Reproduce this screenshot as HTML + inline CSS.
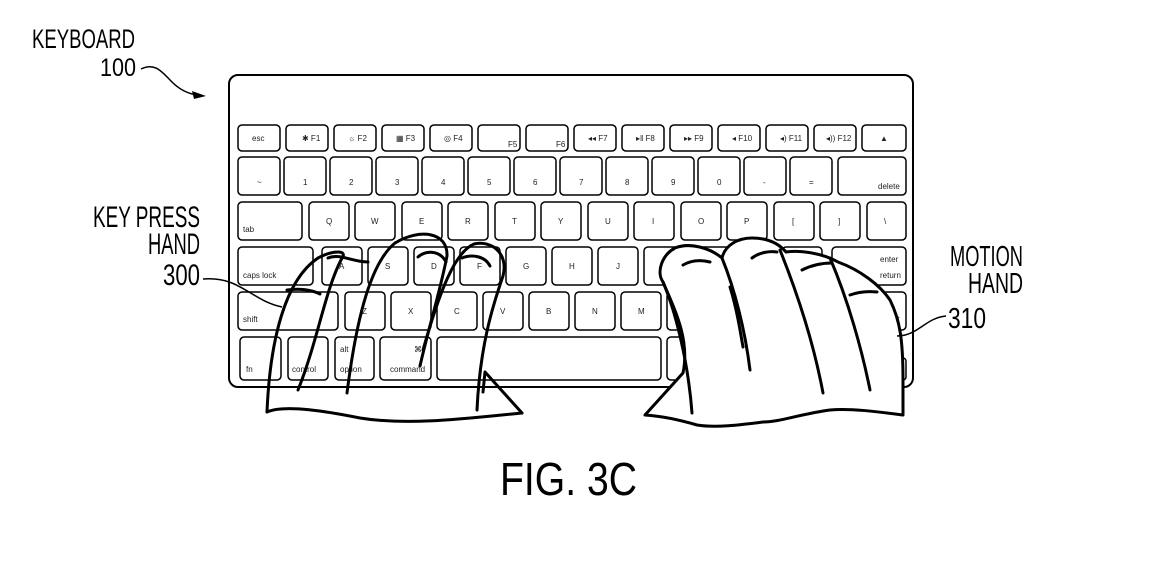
<!DOCTYPE html>
<html><head><meta charset="utf-8"><style>
html,body{margin:0;padding:0;background:#fff}
svg{display:block}
text{font-family:"Liberation Sans",sans-serif;fill:#000}
.k{fill:#fff;stroke:#000;stroke-width:1.5}
.t{font-size:8px;fill:#222}
.h{fill:none;stroke:#000;stroke-width:3;stroke-linecap:round;stroke-linejoin:round}
</style></head><body>
<svg width="1158" height="585" viewBox="0 0 1158 585" xmlns="http://www.w3.org/2000/svg">
<defs>
<pattern id="dots" width="4" height="4" patternUnits="userSpaceOnUse">
<rect width="4" height="4" fill="#fff"/><circle cx="1" cy="1" r="0.8" fill="#555"/><circle cx="3" cy="3" r="0.7" fill="#777"/>
</pattern>
</defs>
<!-- labels -->
<text x="32" y="48" font-size="27" textLength="103" lengthAdjust="spacingAndGlyphs">KEYBOARD</text>
<text x="100" y="76" font-size="25" textLength="36" lengthAdjust="spacingAndGlyphs">100</text>
<path d="M141,69 C155,62 162,72 172,82 C180,90 188,94 198,95" fill="none" stroke="#000" stroke-width="1.5"/>
<polygon points="206,96 192,91 194,99" fill="#000"/>
<text x="93" y="227" font-size="30" textLength="107" lengthAdjust="spacingAndGlyphs">KEY PRESS</text>
<text x="148" y="254" font-size="30" textLength="52" lengthAdjust="spacingAndGlyphs">HAND</text>
<text x="163" y="285" font-size="30" textLength="37" lengthAdjust="spacingAndGlyphs">300</text>
<text x="950" y="266" font-size="29" textLength="73" lengthAdjust="spacingAndGlyphs">MOTION</text>
<text x="968" y="293" font-size="29" textLength="55" lengthAdjust="spacingAndGlyphs">HAND</text>
<text x="948" y="328" font-size="29" textLength="38" lengthAdjust="spacingAndGlyphs">310</text>
<text x="500" y="495" font-size="46" textLength="137" lengthAdjust="spacingAndGlyphs">FIG. 3C</text>

<!-- keyboard -->
<rect x="229" y="75" width="684" height="312" rx="9" fill="#fff" stroke="#000" stroke-width="2"/>
<g>
<rect class="k" x="238" y="125" width="42" height="26" rx="4"/><text class="t" x="252" y="141">esc</text>
<rect class="k" x="286" y="125" width="42" height="26" rx="4"/><text class="t" x="302" y="141">✱ F1</text>
<rect class="k" x="334" y="125" width="42" height="26" rx="4"/><text class="t" x="348" y="141">☼ F2</text>
<rect class="k" x="382" y="125" width="42" height="26" rx="4"/><text class="t" x="396" y="141">▦ F3</text>
<rect class="k" x="430" y="125" width="42" height="26" rx="4"/><text class="t" x="444" y="141">◎ F4</text>
<rect class="k" x="478" y="125" width="42" height="26" rx="4"/><text class="t" x="508" y="147" font-size="6">F5</text>
<rect class="k" x="526" y="125" width="42" height="26" rx="4"/><text class="t" x="556" y="147" font-size="6">F6</text>
<rect class="k" x="574" y="125" width="42" height="26" rx="4"/><text class="t" x="588" y="141">◂◂ F7</text>
<rect class="k" x="622" y="125" width="42" height="26" rx="4"/><text class="t" x="636" y="141">▸‖ F8</text>
<rect class="k" x="670" y="125" width="42" height="26" rx="4"/><text class="t" x="684" y="141">▸▸ F9</text>
<rect class="k" x="718" y="125" width="42" height="26" rx="4"/><text class="t" x="732" y="141">◂ F10</text>
<rect class="k" x="766" y="125" width="42" height="26" rx="4"/><text class="t" x="780" y="141">◂) F11</text>
<rect class="k" x="814" y="125" width="42" height="26" rx="4"/><text class="t" x="826" y="141">◂)) F12</text>
<rect class="k" x="862" y="125" width="44" height="26" rx="4"/><text class="t" x="880" y="141">▲</text>
<rect class="k" x="238" y="157" width="42" height="38" rx="4"/><text class="t" x="257" y="185">~</text>
<rect class="k" x="284" y="157" width="42" height="38" rx="4"/><text class="t" x="303" y="185">1</text>
<rect class="k" x="330" y="157" width="42" height="38" rx="4"/><text class="t" x="349" y="185">2</text>
<rect class="k" x="376" y="157" width="42" height="38" rx="4"/><text class="t" x="395" y="185">3</text>
<rect class="k" x="422" y="157" width="42" height="38" rx="4"/><text class="t" x="441" y="185">4</text>
<rect class="k" x="468" y="157" width="42" height="38" rx="4"/><text class="t" x="487" y="185">5</text>
<rect class="k" x="514" y="157" width="42" height="38" rx="4"/><text class="t" x="533" y="185">6</text>
<rect class="k" x="560" y="157" width="42" height="38" rx="4"/><text class="t" x="579" y="185">7</text>
<rect class="k" x="606" y="157" width="42" height="38" rx="4"/><text class="t" x="625" y="185">8</text>
<rect class="k" x="652" y="157" width="42" height="38" rx="4"/><text class="t" x="671" y="185">9</text>
<rect class="k" x="698" y="157" width="42" height="38" rx="4"/><text class="t" x="717" y="185">0</text>
<rect class="k" x="744" y="157" width="42" height="38" rx="4"/><text class="t" x="763" y="185">-</text>
<rect class="k" x="790" y="157" width="42" height="38" rx="4"/><text class="t" x="809" y="185">=</text>
<rect class="k" x="838" y="157" width="68" height="38" rx="4"/><text class="t" x="878" y="189" font-size="7">delete</text>
<rect class="k" x="238" y="202" width="64" height="38" rx="4"/><text class="t" x="243" y="232" font-size="7">tab</text>
<rect class="k" x="309" y="202" width="40" height="38" rx="4"/><text class="t" x="326" y="224">Q</text>
<rect class="k" x="355" y="202" width="40" height="38" rx="4"/><text class="t" x="371" y="224">W</text>
<rect class="k" x="402" y="202" width="40" height="38" rx="4"/><text class="t" x="419" y="224">E</text>
<rect class="k" x="448" y="202" width="40" height="38" rx="4"/><text class="t" x="465" y="224">R</text>
<rect class="k" x="495" y="202" width="40" height="38" rx="4"/><text class="t" x="512" y="224">T</text>
<rect class="k" x="541" y="202" width="40" height="38" rx="4"/><text class="t" x="558" y="224">Y</text>
<rect class="k" x="588" y="202" width="40" height="38" rx="4"/><text class="t" x="605" y="224">U</text>
<rect class="k" x="634" y="202" width="40" height="38" rx="4"/><text class="t" x="652" y="224">I</text>
<rect class="k" x="681" y="202" width="40" height="38" rx="4"/><text class="t" x="698" y="224">O</text>
<rect class="k" x="727" y="202" width="40" height="38" rx="4"/><text class="t" x="744" y="224">P</text>
<rect class="k" x="774" y="202" width="40" height="38" rx="4"/><text class="t" x="792" y="224">[</text>
<rect class="k" x="820" y="202" width="40" height="38" rx="4"/><text class="t" x="838" y="224">]</text>
<rect class="k" x="867" y="202" width="39" height="38" rx="4"/><text class="t" x="884" y="224">\</text>
<rect class="k" x="238" y="247" width="75" height="38" rx="4"/><text class="t" x="243" y="278" font-size="7">caps lock</text>
<rect class="k" x="322" y="247" width="40" height="38" rx="4"/><text class="t" x="339" y="269">A</text>
<rect class="k" x="368" y="247" width="40" height="38" rx="4" fill="url(#dots)"/><text class="t" x="385" y="269">S</text>
<rect class="k" x="414" y="247" width="40" height="38" rx="4" fill="url(#dots)"/><text class="t" x="431" y="269">D</text>
<rect class="k" x="460" y="247" width="40" height="38" rx="4" fill="url(#dots)"/><text class="t" x="477" y="269">F</text>
<rect class="k" x="506" y="247" width="40" height="38" rx="4"/><text class="t" x="523" y="269">G</text>
<rect class="k" x="552" y="247" width="40" height="38" rx="4"/><text class="t" x="569" y="269">H</text>
<rect class="k" x="598" y="247" width="40" height="38" rx="4"/><text class="t" x="616" y="269">J</text>
<rect class="k" x="644" y="247" width="40" height="38" rx="4"/><text class="t" x="661" y="269">K</text>
<rect class="k" x="690" y="247" width="40" height="38" rx="4"/><text class="t" x="707" y="269">L</text>
<rect class="k" x="736" y="247" width="40" height="38" rx="4"/>
<rect class="k" x="782" y="247" width="40" height="38" rx="4"/>
<rect class="k" x="832" y="247" width="74" height="38" rx="4"/><text class="t" x="880" y="262" font-size="7">enter</text><text class="t" x="880" y="278" font-size="7">return</text>
<rect class="k" x="238" y="292" width="100" height="38" rx="4"/><text class="t" x="243" y="322" font-size="7">shift</text>
<rect class="k" x="345" y="292" width="40" height="38" rx="4"/><text class="t" x="362" y="314">Z</text>
<rect class="k" x="391" y="292" width="40" height="38" rx="4"/><text class="t" x="408" y="314">X</text>
<rect class="k" x="437" y="292" width="40" height="38" rx="4"/><text class="t" x="454" y="314">C</text>
<rect class="k" x="483" y="292" width="40" height="38" rx="4"/><text class="t" x="500" y="314">V</text>
<rect class="k" x="529" y="292" width="40" height="38" rx="4"/><text class="t" x="546" y="314">B</text>
<rect class="k" x="575" y="292" width="40" height="38" rx="4"/><text class="t" x="592" y="314">N</text>
<rect class="k" x="621" y="292" width="40" height="38" rx="4"/><text class="t" x="638" y="314">M</text>
<rect class="k" x="667" y="292" width="40" height="38" rx="4"/>
<rect class="k" x="713" y="292" width="40" height="38" rx="4"/>
<rect class="k" x="759" y="292" width="40" height="38" rx="4"/>
<rect class="k" x="806" y="292" width="100" height="38" rx="4"/><text class="t" x="885" y="322" font-size="7">shift</text>
<rect class="k" x="240" y="337" width="41" height="43" rx="4"/><text class="t" x="246" y="372" font-size="7">fn</text>
<rect class="k" x="288" y="337" width="40" height="43" rx="4"/><text class="t" x="292" y="372" font-size="7">control</text>
<rect class="k" x="335" y="337" width="39" height="43" rx="4"/><text class="t" x="340" y="352" font-size="7">alt</text><text class="t" x="340" y="372" font-size="7">option</text>
<rect class="k" x="380" y="337" width="51" height="43" rx="4"/><text class="t" x="414" y="352">⌘</text><text class="t" x="390" y="372" font-size="7">command</text>
<rect class="k" x="437" y="337" width="224" height="43" rx="4"/>
<rect class="k" x="667" y="337" width="46" height="43" rx="4"/>
<rect class="k" x="719" y="337" width="42" height="43" rx="4"/>
<rect class="k" x="767" y="337" width="42" height="43" rx="4"/>
<rect class="k" x="815" y="337" width="36" height="43" rx="4"/>
<rect class="k" x="857" y="358" width="30" height="22" rx="3"/>
<rect class="k" x="893" y="358" width="13" height="22" rx="3"/>
</g>

<g class="h">
<path d="M267,412 C285,404 330,412 360,418 C410,426 470,418 522,413"/>
<path d="M522,413 L485,372 L483,392"/>
<path d="M267,412 C270,340 285,280 318,258 C333,250 348,250 342,258 C325,290 318,340 298,390"/>
<path d="M347,393 C355,330 368,265 395,243 C420,228 448,232 447,256 C440,292 428,330 420,366"/>
<path d="M477,410 C480,345 493,305 503,276 C509,252 490,240 474,244 C455,252 440,290 423,350"/>
<path d="M287,290 C300,288 312,290 320,294"/>
<path d="M328,258 C340,253 352,262 368,262"/>
<path d="M418,257 C425,250 440,250 446,262"/>
<path d="M462,258 C472,254 485,256 490,266"/>
</g>

<path d="M645,415 L683,373 C690,340 675,310 663,282 C656,272 662,255 675,248 C690,242 710,248 722,258 C725,245 738,238 752,238 C770,238 780,245 786,252 C800,250 822,253 838,262 C860,270 880,285 890,300 C900,320 903,340 903,380 L903,415 C880,412 850,408 830,410 C800,414 780,422 763,422 C740,425 715,428 697,425 C680,420 660,416 645,415 Z" fill="#fff" stroke="#000" stroke-width="3" stroke-linejoin="round"/>
<g class="h">
<path d="M692,413 C688,360 675,310 663,282"/>
<path d="M722,258 C735,290 745,330 750,370"/>
<path d="M730,287 C737,310 740,330 743,347"/>
<path d="M780,250 C800,300 815,350 823,393"/>
<path d="M830,258 C848,300 862,350 870,390"/>
<path d="M683,265 C692,260 702,260 710,262"/>
<path d="M752,258 C760,252 770,251 777,252"/>
<path d="M802,270 C812,265 822,263 832,263"/>
<path d="M850,295 C858,292 868,291 877,292"/>
</g>
<!-- leaders on top -->
<path d="M203,279 C240,276 250,300 282,307" fill="none" stroke="#000" stroke-width="1.5"/>
<path d="M946,316 C925,318 918,336 897,336" fill="none" stroke="#000" stroke-width="1.5"/>
</svg>
</body></html>
